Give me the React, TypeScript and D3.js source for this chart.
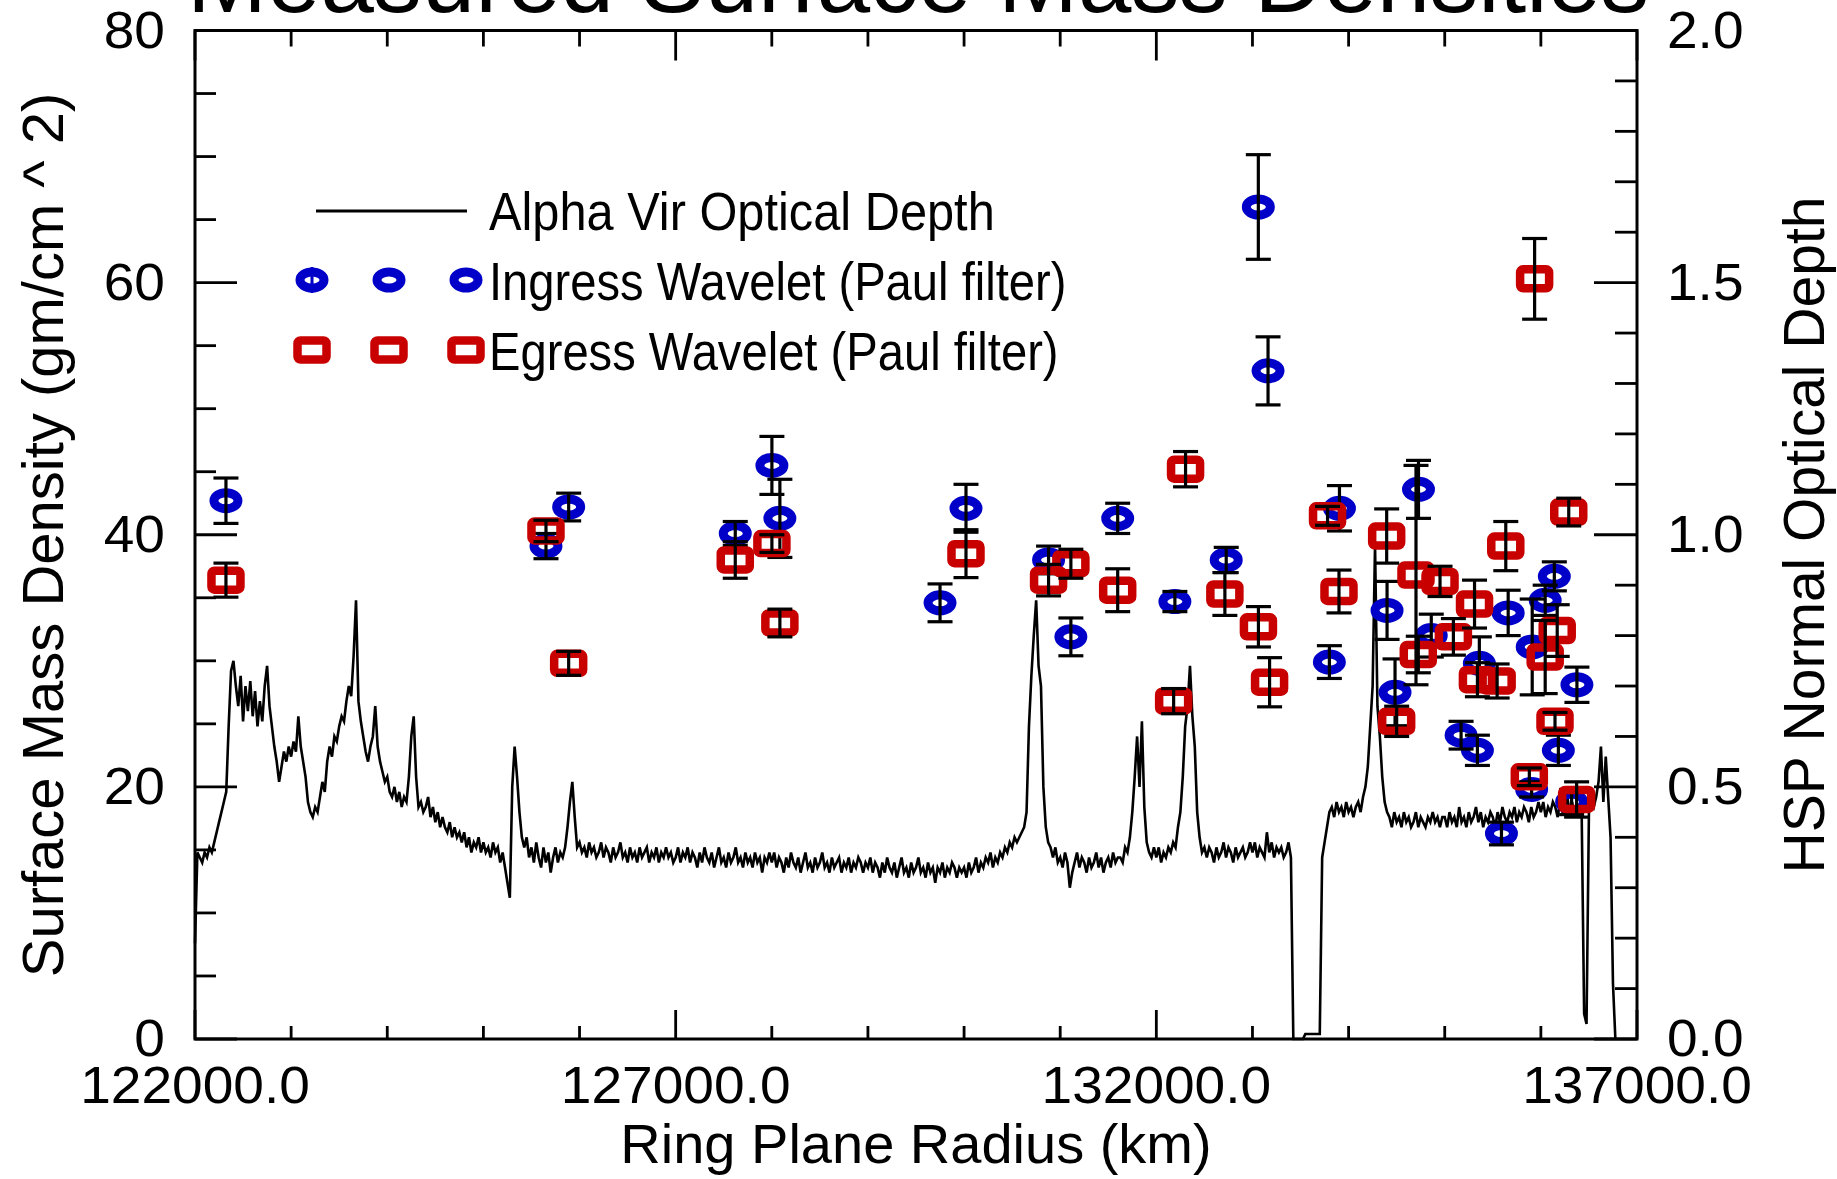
import React, { useEffect } from 'react';
import * as d3 from 'd3';

const WIDTH = 1837;
const HEIGHT = 1179;
const FONT = '"Liberation Sans", Arial, Helvetica, sans-serif';
const BLUE = '#0000c8';
const RED = '#c80000';

// ---- Axis ticks ----
const xMajorTicks = [122000, 127000, 132000, 137000];
const xTickLabels = ['122000.0', '127000.0', '132000.0', '137000.0'];
const leftMajorTicks = [0, 20, 40, 60, 80];
const leftTickLabels = ['0', '20', '40', '60', '80'];
const rightMajorTicks = [0, 0.5, 1.0, 1.5, 2.0];
const rightTickLabels = ['0.0', '0.5', '1.0', '1.5', '2.0'];

// ---- Alpha Vir optical depth profile (hundredths), sampled every 25 km from 122000 km ----
const profileStartKm = 122000;
const profileStepKm = 25;
const tau122 = [19,37,36,35,37,36,38,37,39,41,43,45,47,49,62,73,75,70,66,72,63,70,65,71,64,69,62,67,63,70,74,66,62,58,55,51,54,57,55,58];
const tau123 = [56,59,57,64,58,55,52,47,45,44,46,45,48,51,49,55,58,56,60,59,62,64,63,67,70,68,76,87,67,63,60,57,55,58,60,66,58,55,53,51];
const tau124 = [52,49,48,50,47,49,46,48,47,52,60,64,52,46,47,45,46,48,44,46,43,45,42,44,42,41,43,40,42,40,41,39,41,38,40,37,39,38,40,37];
const tau125 = [39,37,38,36,39,37,38,35,37,34,31,28,50,58,52,45,40,38,40,36,38,35,39,36,34,38,35,37,33,36,38,35,37,36,38,42,47,51,44,38];
const tau126 = [39,37,38,36,39,37,38,36,37,39,36,38,37,35,38,36,37,39,36,37,35,38,36,37,35,38,36,37,38,35,37,36,38,35,37,36,38,36,37,35];
const tau127 = [36,38,35,37,36,38,35,37,36,34,37,35,38,36,35,37,34,36,38,35,36,34,37,35,36,38,35,36,34,37,35,36,34,37,35,36,33,36,35,37];
const tau128 = [35,37,34,36,35,33,36,34,37,35,34,36,33,35,37,34,35,33,36,34,35,37,34,35,33,36,34,35,36,33,35,34,36,33,35,34,36,35,33,35];
const tau129 = [34,36,33,35,34,32,35,33,36,34,33,35,32,34,36,33,34,32,35,33,34,36,33,34,32,35,33,34,31,34,33,35,32,34,33,35,34,32,34,33];
const tau130 = [34,32,35,33,34,36,33,35,34,36,35,37,34,36,35,37,36,38,37,39,38,40,39,40,41,42,45,62,72,80,87,74,70,50,42,39,38,36,38,35];
const tau131 = [36,34,37,35,30,33,35,37,34,36,35,33,36,34,35,37,34,36,33,35,36,34,37,35,36,36,35,38,37,40,45,52,60,50,63,46,39,37,36,38];
const tau132 = [36,38,35,37,36,38,37,39,38,42,45,52,62,66,74,64,58,45,40,37,38,36,38,37,35,38,36,37,39,36,38,37,35,38,36,37,38,36,37,39];
const tau133 = [37,39,36,38,37,36,41,37,39,36,38,37,38,36,37,39,36,0,0,0,0,0,1,1,1,1,1,1,1,36,39,42,45,46,44,47,45,46,44,47];
const tau134 = [45,46,44,46,47,45,48,50,54,62,70,98,66,60,52,47,45,44,42,45,43,44,42,45,43,44,42,43,45,42,44,43,42,44,43,45,43,44,42,44];
const tau135 = [44,42,45,43,44,42,46,43,44,42,45,43,44,46,43,45,42,44,43,45,44,42,45,43,46,44,43,45,44,46,43,45,44,46,45,43,46,44,45,47];
const tau136 = [45,47,44,46,45,47,46,44,47,45,46,48,45,47,44,46,45,44,5,3,45,47,46,48,51,58,47,56,48,40,11,0];

// ---- Ingress wavelet (Paul filter) ----
const ingressRadius = [122322,125651,125887,127620,128001,128084,129750,130020,130879,131111,131598,132193,132727,133061,133162,133800,133905,134400,134483,134727,134860,135170,135340,135360,135590,135660,135904,135910,136045,136140,136182,136320,136375];
const ingressDensity = [42.7,39.1,42.2,40.1,45.5,41.3,34.6,42.1,38.0,31.9,41.3,34.7,38.0,66.0,53.0,29.9,42.1,34.0,27.5,43.6,32.0,24.1,22.9,29.8,16.3,33.8,19.8,31.1,34.8,36.7,22.9,18.8,28.1];
const ingressError = [1.8,1.0,1.1,0.95,2.3,3.1,1.5,1.9,1.1,1.5,1.2,0.8,1.0,4.15,2.7,1.3,1.8,2.3,2.65,2.3,1.7,1.1,1.2,2.1,0.9,1.8,0.6,3.8,1.2,1.15,1.2,1.0,1.4];

// ---- Egress wavelet (Paul filter) ----
const egressRadius = [122322,125651,125887,127620,128001,128084,130020,130879,131111,131598,132180,132304,132713,133062,133178,133781,133900,134396,134500,134701,134725,134951,135090,135310,135340,135545,135635,135880,135935,136045,136147,136170,136290,136372];
const egressDensity = [36.4,40.3,29.8,38.0,39.3,33.0,38.5,36.4,37.7,35.6,26.8,45.2,35.3,32.7,28.3,41.5,35.5,39.9,25.2,36.8,30.5,36.3,31.9,34.5,28.5,28.4,39.1,20.8,60.3,30.3,25.2,32.4,41.8,19.0];
const egressError = [1.35,0.85,0.95,1.45,0.7,1.1,1.9,1.25,1.15,1.7,1.0,1.4,1.7,1.6,1.95,0.75,1.7,2.15,1.2,8.7,1.45,1.2,1.45,1.9,1.35,1.35,1.95,0.7,3.2,2.9,0.7,2.05,1.1,1.4];

// ---- Legend ----
const legendLabels = ['Alpha Vir Optical Depth', 'Ingress Wavelet (Paul filter)', 'Egress Wavelet (Paul filter)'];

function BlueMarker({ cx, cy }: { cx: number; cy: number }) {
  return <ellipse cx={cx} cy={cy} rx={12} ry={8} fill="none" stroke={BLUE} strokeWidth={9} />;
}

function RedMarker({ cx, cy }: { cx: number; cy: number }) {
  return (
    <rect x={cx - 14.5} y={cy - 9.5} width={29} height={19} rx={3} fill="none" stroke={RED} strokeWidth={8.5} />
  );
}

function ErrorBar({ cx, y0, y1 }: { cx: number; y0: number; y1: number }) {
  const cap = 12.5;
  return (
    <g stroke="#000" strokeWidth={3.2} fill="none">
      <line x1={cx} x2={cx} y1={y0} y2={y1} />
      <line x1={cx - cap} x2={cx + cap} y1={y0} y2={y0} />
      <line x1={cx - cap} x2={cx + cap} y1={y1} y2={y1} />
    </g>
  );
}

export default function App() {
  useEffect(() => {
    document.body.style.margin = '0';
    document.body.style.overflow = 'hidden';
  }, []);

  const plot = { left: 195, right: 1637, top: 30.5, bottom: 1039 };
  const x = d3.scaleLinear().domain([122000, 137000]).range([plot.left, plot.right]);
  const yL = d3.scaleLinear().domain([0, 80]).range([plot.bottom, plot.top]);
  const yR = d3.scaleLinear().domain([0, 2]).range([plot.bottom, plot.top]);

  const tauAll = [
    ...tau122, ...tau123, ...tau124, ...tau125, ...tau126, ...tau127, ...tau128, ...tau129,
    ...tau130, ...tau131, ...tau132, ...tau133, ...tau134, ...tau135, ...tau136,
  ];
  const profile: [number, number][] = tauAll.map((v, i) => [profileStartKm + i * profileStepKm, v / 100]);
  const linePath = d3
    .line<[number, number]>()
    .x((d) => x(d[0]))
    .y((d) => yR(d[1]))(profile) as string;

  const xMinor = d3.range(122000, 137001, 1000).filter((v) => !xMajorTicks.includes(v));
  const leftMinor = d3.range(0, 80.01, 5).filter((v) => v % 20 !== 0);
  const rightMinor = d3.range(0, 20.01, 1).map((v) => v / 10).filter((v) => Math.round(v * 10) % 5 !== 0);

  const ingress = ingressRadius.map((r, i) => ({ r, v: ingressDensity[i], e: ingressError[i] }));
  const egress = egressRadius.map((r, i) => ({ r, v: egressDensity[i], e: egressError[i] }));

  const tickStroke = { stroke: '#000', strokeWidth: 2.8 };
  const labelSize = 51;
  const labelScale = 1.08;

  // legend geometry
  const legLineY = 211;
  const legMarkerX = [312, 389, 466];
  const legRowY = [280, 350];
  const legTextX = 489;
  const legBaseline = [230, 300, 370];
  const legScale = [0.92, 0.89, 0.89];

  return (
    <svg
      width={WIDTH}
      height={HEIGHT}
      viewBox={`0 0 ${WIDTH} ${HEIGHT}`}
      style={{ position: 'absolute', left: 0, top: 0, background: '#fff' }}
      fontFamily={FONT}
    >
      <rect x={0} y={0} width={WIDTH} height={HEIGHT} fill="#fff" />

      {/* Title (partly cut off at top, as in the reference) */}
      <text x={918} y={12} fontSize={96} textAnchor="middle" fill="#000">
        Measured Surface Mass Densities
      </text>

      {/* Optical depth profile */}
      <path d={linePath} fill="none" stroke="#000" strokeWidth={2.6} strokeLinejoin="miter" />

      {/* Ingress */}
      {ingress.map((d, i) => (
        <BlueMarker key={`im${i}`} cx={x(d.r)} cy={yL(d.v)} />
      ))}
      {ingress.map((d, i) => (
        <ErrorBar key={`ie${i}`} cx={x(d.r)} y0={yL(d.v + d.e)} y1={yL(d.v - d.e)} />
      ))}

      {/* Egress */}
      {egress.map((d, i) => (
        <RedMarker key={`em${i}`} cx={x(d.r)} cy={yL(d.v)} />
      ))}
      {egress.map((d, i) => (
        <ErrorBar key={`ee${i}`} cx={x(d.r)} y0={yL(d.v + d.e)} y1={yL(d.v - d.e)} />
      ))}

      {/* Frame */}
      <rect
        x={plot.left}
        y={plot.top}
        width={plot.right - plot.left}
        height={plot.bottom - plot.top}
        fill="none"
        stroke="#000"
        strokeWidth={3}
      />

      {/* X ticks (bottom and top) */}
      {xMajorTicks.map((v) => (
        <g key={`xM${v}`} {...tickStroke}>
          <line x1={x(v)} x2={x(v)} y1={plot.bottom} y2={plot.bottom - 29} />
          <line x1={x(v)} x2={x(v)} y1={plot.top} y2={plot.top + 30} />
        </g>
      ))}
      {xMinor.map((v) => (
        <g key={`xm${v}`} {...tickStroke}>
          <line x1={x(v)} x2={x(v)} y1={plot.bottom} y2={plot.bottom - 13} />
          <line x1={x(v)} x2={x(v)} y1={plot.top} y2={plot.top + 16} />
        </g>
      ))}

      {/* Left ticks */}
      {leftMajorTicks.map((v) => (
        <line key={`lM${v}`} x1={plot.left} x2={plot.left + 42} y1={yL(v)} y2={yL(v)} {...tickStroke} />
      ))}
      {leftMinor.map((v) => (
        <line key={`lm${v}`} x1={plot.left} x2={plot.left + 21} y1={yL(v)} y2={yL(v)} {...tickStroke} />
      ))}

      {/* Right ticks */}
      {rightMajorTicks.map((v) => (
        <line key={`rM${v}`} x1={plot.right} x2={plot.right - 43} y1={yR(v)} y2={yR(v)} {...tickStroke} />
      ))}
      {rightMinor.map((v) => (
        <line key={`rm${v}`} x1={plot.right} x2={plot.right - 22} y1={yR(v)} y2={yR(v)} {...tickStroke} />
      ))}

      {/* Tick labels */}
      {xMajorTicks.map((v, i) => (
        <text
          key={`xl${v}`}
          transform={`translate(${x(v)},1103) scale(${labelScale},1)`}
          fontSize={labelSize}
          textAnchor="middle"
          fill="#000"
        >
          {xTickLabels[i]}
        </text>
      ))}
      {leftMajorTicks.map((v, i) => (
        <text
          key={`ll${v}`}
          transform={`translate(165,${yL(v) + 17}) scale(${labelScale},1)`}
          fontSize={labelSize}
          textAnchor="end"
          fill="#000"
        >
          {leftTickLabels[i]}
        </text>
      ))}
      {rightMajorTicks.map((v, i) => (
        <text
          key={`rl${v}`}
          transform={`translate(1667,${yR(v) + 17}) scale(${labelScale},1)`}
          fontSize={labelSize}
          textAnchor="start"
          fill="#000"
        >
          {rightTickLabels[i]}
        </text>
      ))}

      {/* Axis titles */}
      <text x={916} y={1163} fontSize={56} textAnchor="middle" fill="#000">
        Ring Plane Radius (km)
      </text>
      <text transform={`translate(63,535) rotate(-90)`} fontSize={58} textAnchor="middle" fill="#000">
        Surface Mass Density (gm/cm ^ 2)
      </text>
      <text transform={`translate(1824,535) rotate(-90)`} fontSize={57} textAnchor="middle" fill="#000">
        HSP Normal Optical Depth
      </text>

      {/* Legend */}
      <line x1={316} x2={467} y1={legLineY} y2={legLineY} stroke="#000" strokeWidth={3} />
      <line x1={legMarkerX[0]} x2={legMarkerX[0]} y1={legRowY[0] - 13} y2={legRowY[0] + 13} stroke={BLUE} strokeWidth={3} />
      {legMarkerX.map((mx) => (
        <BlueMarker key={`lbi${mx}`} cx={mx} cy={legRowY[0]} />
      ))}
      {legMarkerX.map((mx) => (
        <RedMarker key={`lbe${mx}`} cx={mx} cy={legRowY[1]} />
      ))}
      {legendLabels.map((t, i) => (
        <text
          key={`lt${i}`}
          transform={`translate(${legTextX},${legBaseline[i]}) scale(${legScale[i]},1)`}
          fontSize={53}
          fill="#000"
        >
          {t}
        </text>
      ))}
    </svg>
  );
}
